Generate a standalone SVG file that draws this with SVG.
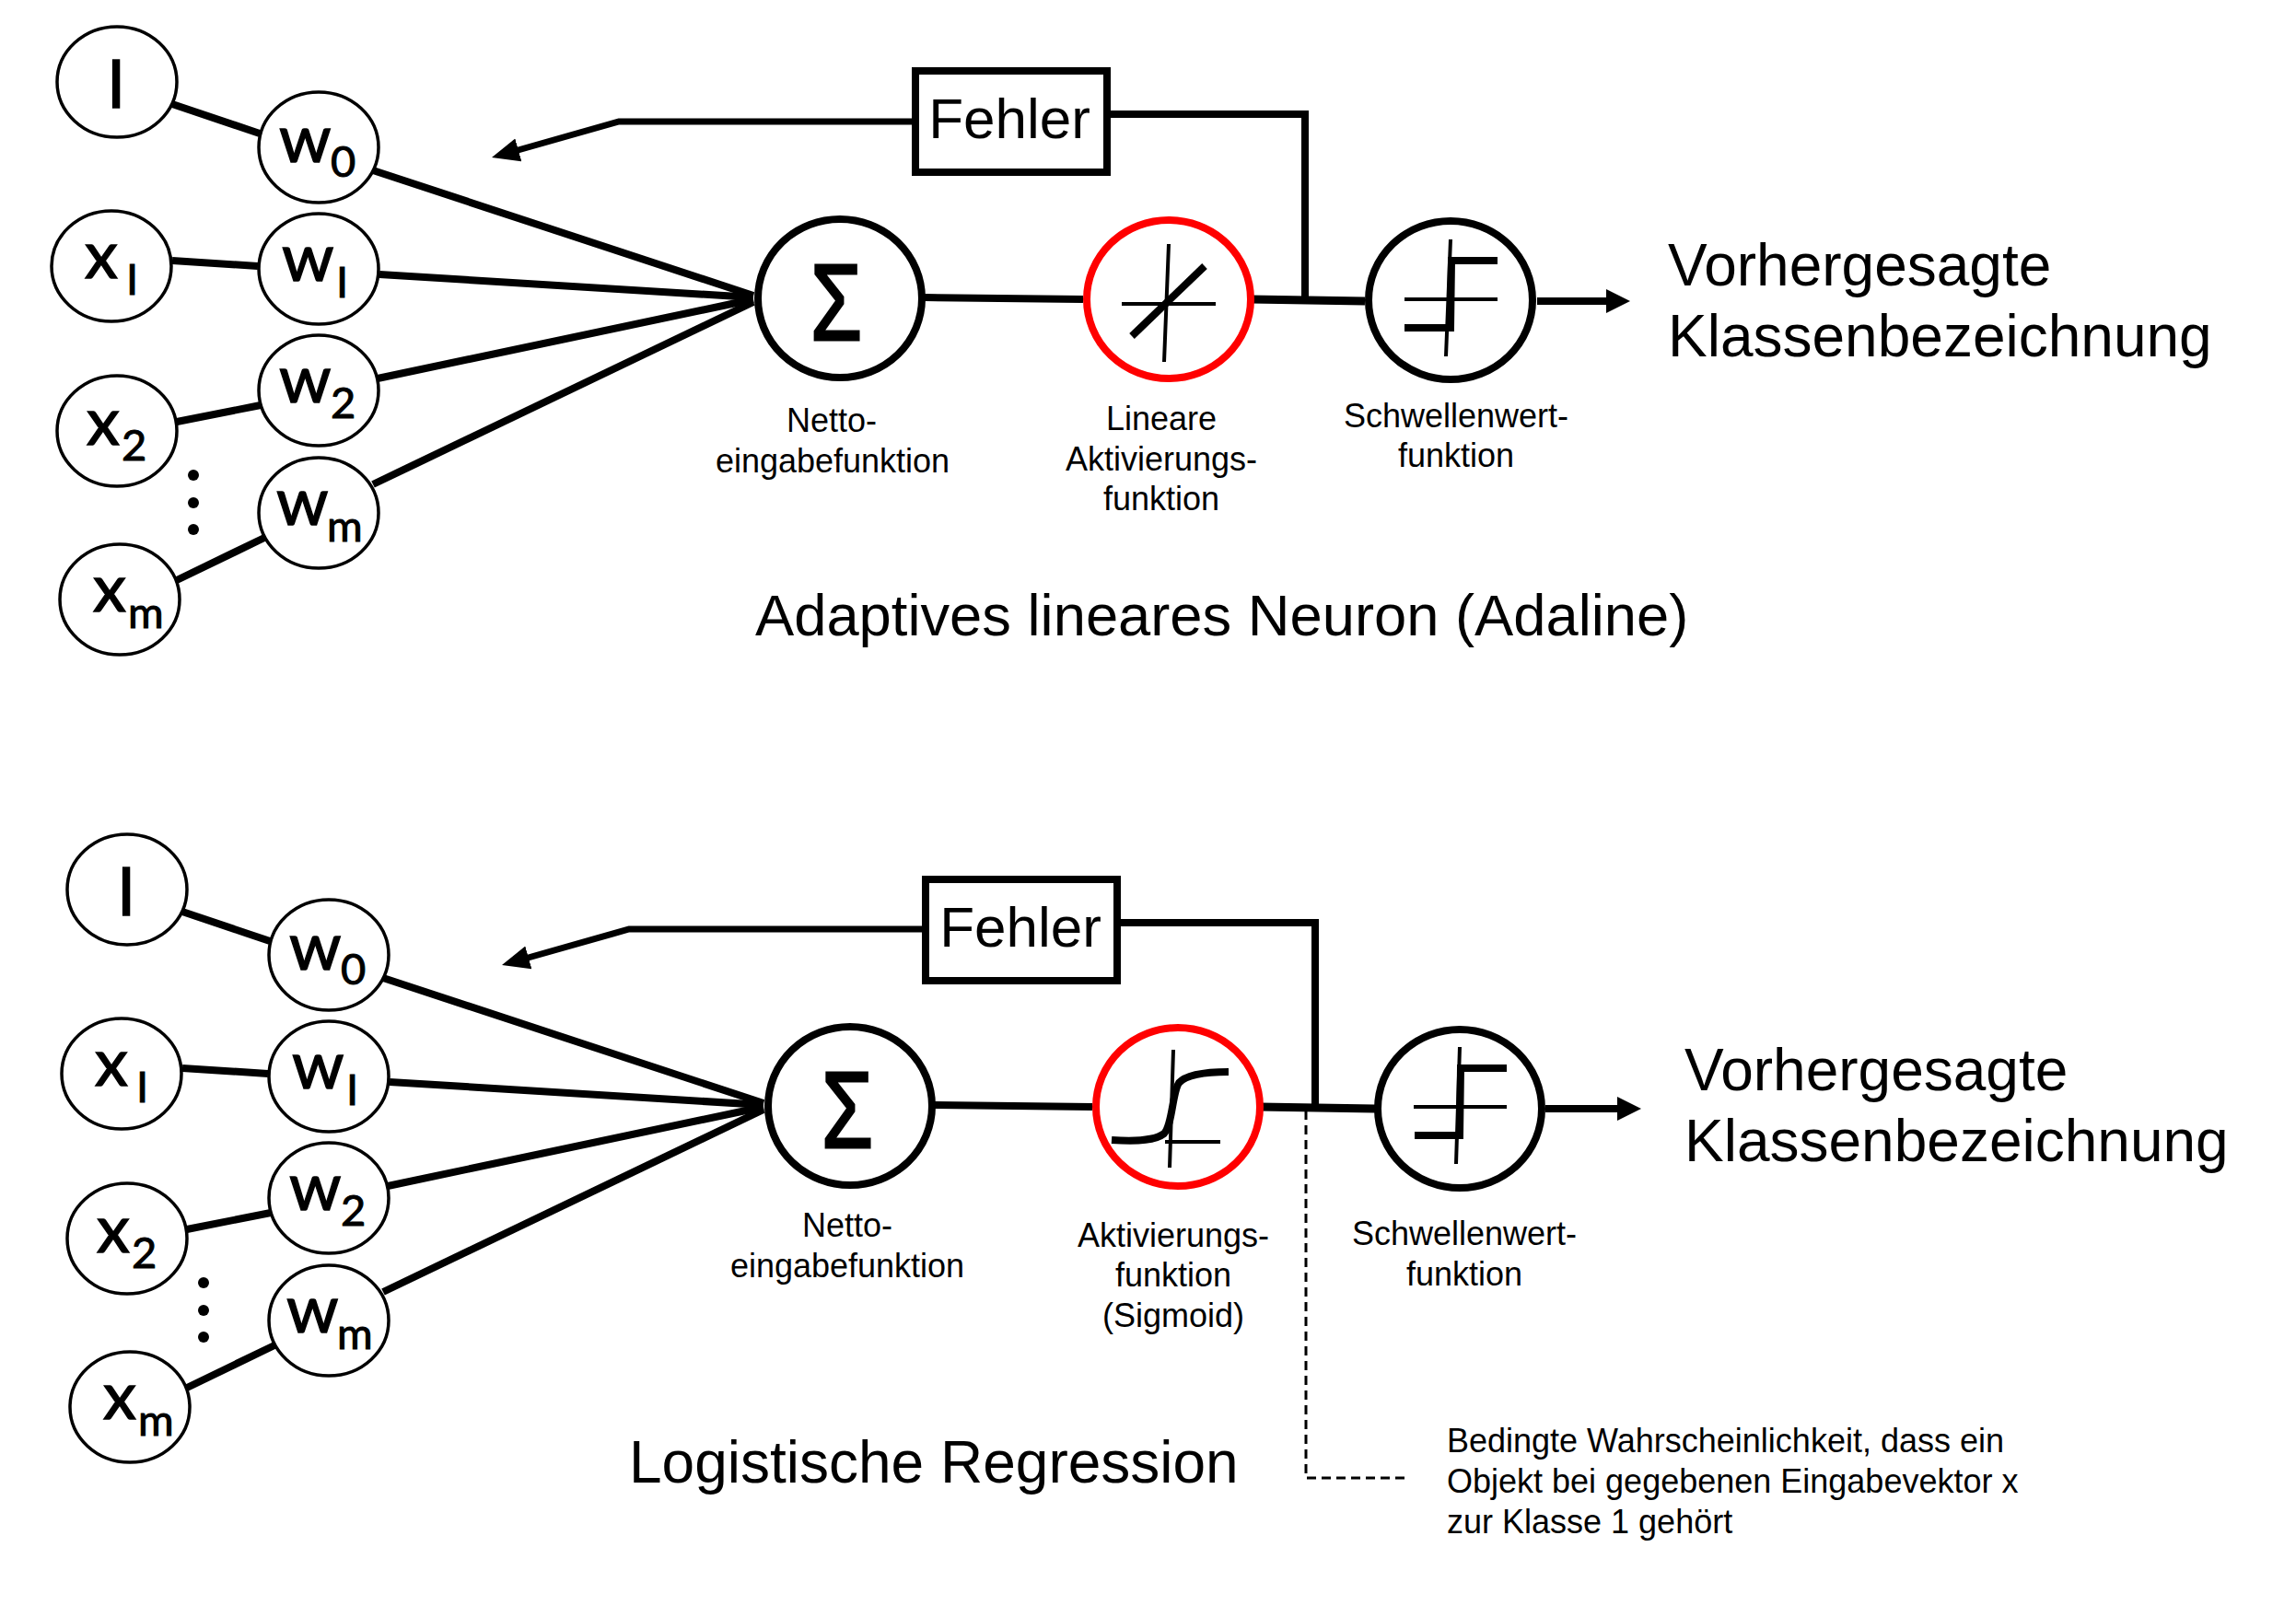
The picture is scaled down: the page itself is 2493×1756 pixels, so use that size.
<svg xmlns="http://www.w3.org/2000/svg" width="2493" height="1756" viewBox="0 0 2493 1756">
<style>
text{font-family:"Liberation Sans",Arial,sans-serif;fill:#000}
.in ellipse{fill:#fff;stroke:#000;stroke-width:3.5}
.in text{font-family:Lato,"Noto Sans",sans-serif;font-size:72px;stroke:#000;stroke-width:1.4}
.in .s{font-size:47px;stroke-width:1}
.op ellipse{fill:#fff;stroke:#000;stroke-width:8}
.op.red ellipse{stroke:#f00}
.thin{fill:none;stroke:#000;stroke-width:4}
.thick{fill:none;stroke:#000;stroke-width:8}
.sig{font-family:"Liberation Sans",sans-serif;font-size:116px;text-anchor:middle;stroke:#000;stroke-width:3}
.lbl{font-size:36px;text-anchor:middle}
.big{font-size:64px}
.fe{font-size:62px;text-anchor:middle}
.c line,.c polyline{fill:none;stroke:#000;stroke-width:8}
.c .w9{stroke-width:9}
.c .arr{marker-end:url(#ah)}
.c .arr2{stroke-width:7;marker-end:url(#ah2)}
.c .dash{stroke-width:3;stroke-dasharray:10 6}
.box rect{fill:#fff;stroke:#000;stroke-width:8}
.note{font-size:36px}
</style>
<defs>
<marker id="ah" markerUnits="userSpaceOnUse" markerWidth="30" markerHeight="30" refX="4" refY="13" orient="auto"><path d="M0 0L26 13L0 26z" fill="#000"/></marker>
<marker id="ah2" markerUnits="userSpaceOnUse" markerWidth="34" markerHeight="30" refX="4" refY="13" orient="auto"><path d="M0 0L30 13L0 26z" fill="#000"/></marker>
</defs>
<rect width="2493" height="1756" fill="#fff"/>
<g id="connectors" class="c">
<line x1="187" y1="113" x2="282" y2="145"/>
<line x1="405" y1="185" x2="818" y2="321"/>
<line x1="187" y1="283" x2="280" y2="289"/>
<line x1="412" y1="298" x2="818" y2="323"/>
<line x1="192" y1="458" x2="283" y2="440"/>
<line x1="410" y1="411" x2="818" y2="325"/>
<line x1="192" y1="630" x2="287" y2="584"/>
<line x1="405" y1="526" x2="818" y2="328"/>
<line x1="1004" y1="323" x2="1176" y2="325"/>
<line class="w9" x1="1358" y1="325" x2="1482" y2="327"/>
<line x1="1669" y1="327" x2="1748" y2="327" class="arr"/>
<polyline points="1206,124 1417,124 1417,325"/>
<polyline points="990,132 672,132 559,164" class="arr2"/>
<line x1="198" y1="990" x2="293" y2="1022"/>
<line x1="416" y1="1062" x2="829" y2="1198"/>
<line x1="198" y1="1160" x2="291" y2="1166"/>
<line x1="423" y1="1175" x2="829" y2="1200"/>
<line x1="203" y1="1335" x2="294" y2="1317"/>
<line x1="421" y1="1288" x2="829" y2="1202"/>
<line x1="203" y1="1507" x2="298" y2="1461"/>
<line x1="416" y1="1403" x2="829" y2="1205"/>
<line x1="1015" y1="1200" x2="1186" y2="1202"/>
<line class="w9" x1="1368" y1="1202" x2="1493" y2="1204"/>
<line x1="1678" y1="1204" x2="1760" y2="1204" class="arr"/>
<polyline points="1217,1002 1428,1002 1428,1203"/>
<polyline points="1001,1009 683,1009 570,1041" class="arr2"/>
<polyline class="dash" points="1418,1206 1418,1605 1527,1605"/>
</g>
<g id="dots1"><circle cx="210" cy="516" r="6"/><circle cx="210" cy="546" r="6"/><circle cx="210" cy="575" r="6"/></g>
<g id="dots2"><circle cx="221" cy="1393" r="6"/><circle cx="221" cy="1423" r="6"/><circle cx="221" cy="1452" r="6"/></g>

<g id="a-bias" class="in"><ellipse cx="127" cy="89" rx="65" ry="60"/><text x="116" y="117">I</text></g>
<g id="a-x1" class="in"><ellipse cx="121" cy="289" rx="65" ry="60"/><text x="92" y="302">x</text><text class="s" x="137" y="320">I</text></g>
<g id="a-x2" class="in"><ellipse cx="127" cy="468" rx="65" ry="60"/><text x="94" y="483">x</text><text class="s" x="132" y="500">2</text></g>
<g id="a-xm" class="in"><ellipse cx="130" cy="651" rx="65" ry="60"/><text x="101" y="664">x</text><text class="s" x="139" y="682">m</text></g>
<g id="a-w0" class="in"><ellipse cx="346" cy="160" rx="65" ry="60"/><text x="303" y="176">w</text><text class="s" x="359" y="192">0</text></g>
<g id="a-w1" class="in"><ellipse cx="346" cy="292" rx="65" ry="60"/><text x="306" y="305">w</text><text class="s" x="365" y="323">I</text></g>
<g id="a-w2" class="in"><ellipse cx="346" cy="424" rx="65" ry="60"/><text x="303" y="437">w</text><text class="s" x="359" y="454">2</text></g>
<g id="a-wm" class="in"><ellipse cx="346" cy="557" rx="65" ry="60"/><text x="300" y="570">w</text><text class="s" x="355" y="588">m</text></g>

<g id="a-sum" class="op"><ellipse cx="912" cy="324" rx="89" ry="86"/><text class="sig" transform="translate(908 369) scale(.78 1)">Σ</text></g>
<g id="a-act" class="op red"><ellipse cx="1269" cy="325" rx="89" ry="86"/>
<path class="thin" d="M1269 265L1264 393M1218 330H1320"/><path class="thick" d="M1308 289L1229 365"/></g>
<g id="a-thr" class="op"><ellipse cx="1575" cy="326" rx="89" ry="86"/>
<path class="thin" d="M1575 260L1570 387M1525 325H1626"/><path class="thick" d="M1626 283H1576L1575 356H1525"/></g>
<g id="a-err" class="box"><rect x="994" y="77" width="208" height="110"/><text class="fe" x="1096" y="150">Fehler</text></g>
<text class="lbl" x="903" y="469">Netto-</text><text class="lbl" x="904" y="513">eingabefunktion</text>
<text class="lbl" x="1261" y="467">Lineare</text><text class="lbl" x="1261" y="511">Aktivierungs-</text><text class="lbl" x="1261" y="554">funktion</text>
<text class="lbl" x="1581" y="464">Schwellenwert-</text><text class="lbl" x="1581" y="507">funktion</text>
<text class="big" x="1811" y="310">Vorhergesagte</text><text class="big" x="1811" y="387">Klassenbezeichnung</text>
<text class="big" style="font-size:63.3px" x="820" y="690">Adaptives lineares Neuron (Adaline)</text>

<g id="b-bias" class="in"><ellipse cx="138" cy="966" rx="65" ry="60"/><text x="127" y="994">I</text></g>
<g id="b-x1" class="in"><ellipse cx="132" cy="1166" rx="65" ry="60"/><text x="103" y="1179">x</text><text class="s" x="148" y="1197">I</text></g>
<g id="b-x2" class="in"><ellipse cx="138" cy="1345" rx="65" ry="60"/><text x="105" y="1360">x</text><text class="s" x="143" y="1377">2</text></g>
<g id="b-xm" class="in"><ellipse cx="141" cy="1528" rx="65" ry="60"/><text x="112" y="1541">x</text><text class="s" x="150" y="1559">m</text></g>
<g id="b-w0" class="in"><ellipse cx="357" cy="1037" rx="65" ry="60"/><text x="314" y="1053">w</text><text class="s" x="370" y="1069">0</text></g>
<g id="b-w1" class="in"><ellipse cx="357" cy="1169" rx="65" ry="60"/><text x="317" y="1182">w</text><text class="s" x="376" y="1200">I</text></g>
<g id="b-w2" class="in"><ellipse cx="357" cy="1301" rx="65" ry="60"/><text x="314" y="1314">w</text><text class="s" x="370" y="1331">2</text></g>
<g id="b-wm" class="in"><ellipse cx="357" cy="1434" rx="65" ry="60"/><text x="311" y="1447">w</text><text class="s" x="366" y="1465">m</text></g>

<g id="b-sum" class="op"><ellipse cx="923" cy="1201" rx="89" ry="86"/><text class="sig" transform="translate(920 1246) scale(.78 1)">Σ</text></g>
<g id="b-act" class="op red"><ellipse cx="1279" cy="1202" rx="89" ry="86"/>
<path class="thin" d="M1274 1140L1270 1268M1265 1240H1325"/>
<path class="thick" d="M1207 1238C1238 1240 1255 1238 1264 1231C1273 1222 1273 1186 1280 1176C1287 1168 1307 1164 1334 1164"/></g>
<g id="b-thr" class="op"><ellipse cx="1585" cy="1204" rx="89" ry="86"/>
<path class="thin" d="M1585 1137L1581 1264M1535 1202H1636"/><path class="thick" d="M1636 1160H1586L1585 1233H1536"/></g>
<g id="b-err" class="box"><rect x="1005" y="955" width="208" height="110"/><text class="fe" x="1108" y="1028">Fehler</text></g>
<text class="lbl" x="920" y="1343">Netto-</text><text class="lbl" x="920" y="1387">eingabefunktion</text>
<text class="lbl" x="1274" y="1354">Aktivierungs-</text><text class="lbl" x="1274" y="1397">funktion</text><text class="lbl" x="1274" y="1441">(Sigmoid)</text>
<text class="lbl" x="1590" y="1352">Schwellenwert-</text><text class="lbl" x="1590" y="1396">funktion</text>
<text class="big" x="1829" y="1184">Vorhergesagte</text><text class="big" x="1829" y="1261">Klassenbezeichnung</text>
<text class="big" x="683" y="1610">Logistische Regression</text>
<text class="note" x="1571" y="1577">Bedingte Wahrscheinlichkeit, dass ein</text>
<text class="note" x="1571" y="1621">Objekt bei gegebenen Eingabevektor x</text>
<text class="note" x="1571" y="1665">zur Klasse 1 gehört</text>
</svg>
